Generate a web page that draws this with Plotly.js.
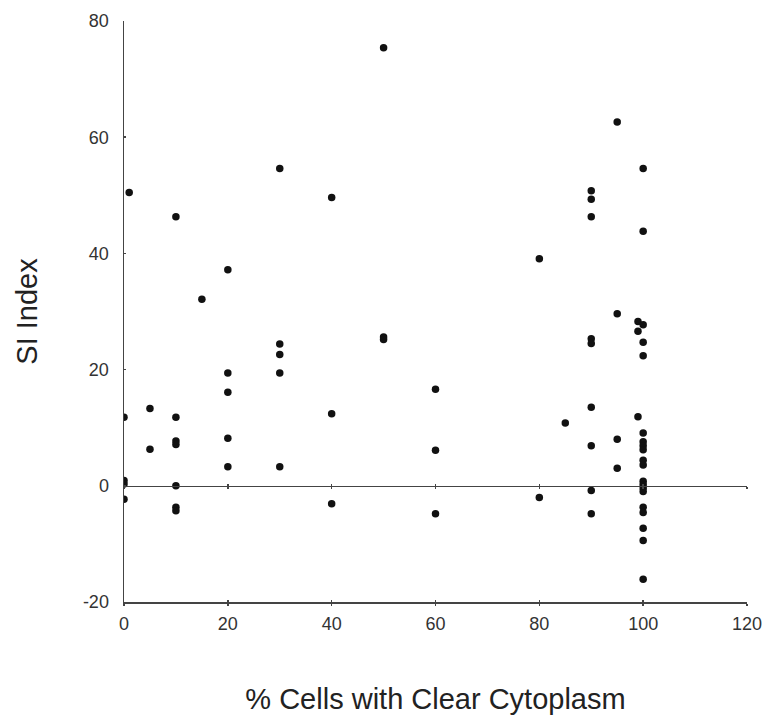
<!DOCTYPE html>
<html>
<head>
<meta charset="utf-8">
<script src="https://cdn.plot.ly/plotly-3.0.1.min.js"></script>
<style>html,body{margin:0;padding:0;background:#fff;}#chart{width:766px;height:725px;}</style>
</head>
<body>
<div id="chart"></div>
<script>
// % cells with clear cytoplasm (x) and SI index (y), one entry per case
const pctClear = [
  0, 0, 0, 0,
  1,
  5, 5,
  10, 10, 10, 10, 10, 10, 10,
  15,
  20, 20, 20, 20, 20,
  30, 30, 30, 30, 30,
  40, 40, 40,
  50, 50, 50,
  60, 60, 60,
  80, 80,
  85,
  90, 90, 90, 90, 90, 90, 90, 90, 90,
  95, 95, 95, 95,
  99, 99, 99,
  100, 100, 100, 100, 100, 100, 100, 100, 100, 100,
  100, 100, 100, 100, 100, 100, 100, 100, 100, 100
];
const siIndex = [
  11.8, 0.9, 0.3, -2.3,
  50.5,
  13.3, 6.3,
  46.3, 11.8, 7.7, 7.1, 0, -3.7, -4.3,
  32.1,
  37.2, 19.4, 16.1, 8.2, 3.3,
  54.6, 24.4, 22.6, 19.4, 3.3,
  49.6, 12.4, -3.1,
  75.4, 25.6, 25.2,
  16.6, 6.1, -4.8,
  39.1, -2.0,
  10.8,
  50.8, 49.3, 46.3, 25.3, 24.5, 13.5, 6.9, -0.8, -4.8,
  62.6, 29.6, 8.0, 3.0,
  28.3, 26.6, 11.9,
  54.6, 43.8, 27.7, 24.7, 22.4, 9.1, 7.6, 6.9, 6.2, 4.4,
  3.6, 0.8, 0.2, -0.4, -1.0, -3.7, -4.6, -7.3, -9.4, -16.1
];
const xTicks = [0, 20, 40, 60, 80, 100, 120];
const yTicks = [-20, 0, 20, 40, 60, 80];
const xTitle = '% Cells with Clear Cytoplasm';
const yTitle = 'SI Index';

const axisLine = '#444';
const font = 'Liberation Sans, Arial, Helvetica, sans-serif';

const trace = {
  x: pctClear, y: siIndex,
  type: 'scatter', mode: 'markers',
  marker: {size: 7.5, color: '#111', line: {width: 0}},
  hoverinfo: 'x+y', showlegend: false
};

const hiddenAxisBase = {
  matches: 'x', overlaying: 'x', anchor: 'free',
  showline: true, linecolor: axisLine, linewidth: 1.5,
  showticklabels: false, showgrid: false, zeroline: false,
  tickvals: xTicks, ticklen: 2, tickwidth: 1.5, tickcolor: axisLine
};

const layout = {
  width: 766, height: 725,
  margin: {l: 124, r: 19, t: 21, b: 123},
  paper_bgcolor: '#fff', plot_bgcolor: '#fff',
  font: {family: font, color: '#333'},
  xaxis: {
    range: [0, 120], tickvals: xTicks, ticktext: xTicks.map(String),
    showline: true, linecolor: axisLine, linewidth: 1.5,
    ticks: 'outside', ticklen: 2, tickwidth: 1.5, tickcolor: axisLine,
    ticklabelstandoff: 3,
    showgrid: false, zeroline: false,
    tickfont: {size: 18, color: '#333'},
    title: {text: xTitle, font: {size: 29, color: '#222'}, standoff: 55}
  },
  xaxis2: Object.assign({}, hiddenAxisBase, {position: 0, ticks: 'inside'}),
  xaxis3: Object.assign({}, hiddenAxisBase, {position: 0.2, ticks: 'outside'}),
  xaxis4: Object.assign({}, hiddenAxisBase, {position: 0.2, ticks: 'inside'}),
  yaxis: {
    range: [-20, 80], tickvals: yTicks, ticktext: yTicks.map(String),
    showline: true, linecolor: axisLine, linewidth: 1.5,
    ticks: 'inside', ticklen: 2, tickwidth: 1.5, tickcolor: axisLine,
    ticklabelstandoff: 10,
    showgrid: false, zeroline: false,
    tickfont: {size: 18, color: '#333'},
    title: {text: yTitle, font: {size: 29, color: '#222'}, standoff: 36}
  }
};

const dummy = (ax) => ({x: [], y: [], xaxis: ax, yaxis: 'y', type: 'scatter', showlegend: false, hoverinfo: 'skip'});

Plotly.newPlot('chart', [dummy('x2'), dummy('x3'), dummy('x4'), trace], layout, {displayModeBar: false, staticPlot: true});
</script>
</body>
</html>
